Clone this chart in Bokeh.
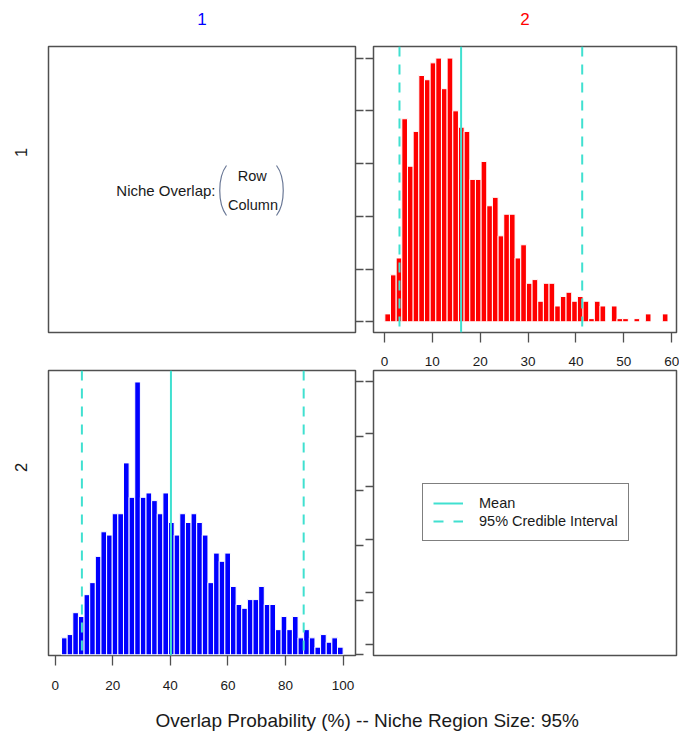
import numpy as np
from bokeh.plotting import figure
from bokeh.models import Range1d, FixedTicker, Span, Label, Legend, LegendItem
from bokeh.layouts import column, row
from bokeh.embed import file_html
from bokeh.resources import INLINE

FONT = "Liberation Sans"
TEAL = "#40E0D0"
FRAME = "#505050"
TXT = "#1a1a1a"

# ---------------- data ----------------
species = ["1", "2"]
species_colors = ["#0000FF", "#FF0000"]

# top-right panel: overlap of species 2 (red), 50 bins over [min, max]
red_range = [0.07, 59.22]
red_density = [0.0015, 0.0089, 0.0121, 0.0385, 0.0295, 0.0361, 0.0467, 0.0459, 0.0491, 0.0500,
               0.0442, 0.0500, 0.0400, 0.0369, 0.0361, 0.0270, 0.0270, 0.0304, 0.0220, 0.0236,
               0.0163, 0.0204, 0.0204, 0.0121, 0.0146, 0.0073, 0.0080, 0.0039, 0.0073, 0.0073,
               0.0030, 0.0048, 0.0056, 0.0039, 0.0048, 0.0039, 0.0006, 0.0039, 0.0030, 0.0000,
               0.0030, 0.0006, 0.0006, 0.0000, 0.0006, 0.0000, 0.0015, 0.0000, 0.0000, 0.0015]
red_stats = [3.13, 16.0, 41.3]      # lower 95% CI, mean, upper 95% CI

# bottom-left panel: overlap of species 1 (blue)
blue_range = [2.2, 100.0]
blue_density = [0.0031, 0.0037, 0.0077, 0.0070, 0.0110, 0.0132, 0.0180, 0.0225, 0.0219, 0.0258,
                0.0258, 0.0351, 0.0288, 0.0499, 0.0288, 0.0296, 0.0282, 0.0258, 0.0296, 0.0242,
                0.0219, 0.0258, 0.0242, 0.0258, 0.0242, 0.0219, 0.0132, 0.0186, 0.0171, 0.0186,
                0.0125, 0.0092, 0.0085, 0.0101, 0.0101, 0.0125, 0.0092, 0.0092, 0.0046, 0.0070,
                0.0046, 0.0070, 0.0031, 0.0046, 0.0031, 0.0014, 0.0037, 0.0023, 0.0031, 0.0014]
blue_stats = [9.27, 40.2, 86.3]

tr_xticks = [0, 10, 20, 30, 40, 50, 60]
bl_xticks = [0, 20, 40, 60, 80, 100]
dens_ticks = [0.0, 0.01, 0.02, 0.03, 0.04, 0.05]
br_ticks = [0.0, 0.2, 0.4, 0.6, 0.8, 1.0]
legend_labels = ["Mean", "95% Credible Interval"]
overlap_text = ["Niche Overlap:", "Row", "Column"]
xlabel = "Overlap Probability (%) -- Niche Region Size: 95%"


# ---------------- helpers ----------------
def make_fig(width, height, xr, yr, mb, x_loc, y_loc):
    p = figure(width=width, height=height, x_range=xr, y_range=yr,
               toolbar_location=None, tools="", output_backend="svg",
               x_axis_location=x_loc, y_axis_location=y_loc,
               min_border_left=mb[0], min_border_right=mb[1],
               min_border_top=mb[2], min_border_bottom=mb[3])
    p.xgrid.visible = False
    p.ygrid.visible = False
    p.outline_line_color = FRAME
    p.outline_line_width = 1.5
    p.background_fill_color = "white"
    p.border_fill_color = "white"
    return p


def blank_fig(width, height):
    p = figure(width=width, height=height, x_range=Range1d(0, width),
               y_range=Range1d(0, height), toolbar_location=None, tools="",
               output_backend="svg", x_axis_location=None, y_axis_location=None,
               min_border=0)
    p.outline_line_color = None
    p.xgrid.visible = False
    p.ygrid.visible = False
    p.background_fill_color = "white"
    p.border_fill_color = "white"
    return p


def style_axis(ax, ticks, tick_out, labels, standoff=0):
    ax.ticker = FixedTicker(ticks=ticks)
    ax.minor_tick_line_color = None
    ax.major_tick_in = 0
    ax.major_tick_out = tick_out
    ax.major_tick_line_color = FRAME
    ax.major_tick_line_width = 1.3
    ax.axis_line_color = None
    ax.axis_label = None
    if labels:
        ax.major_label_text_font = FONT
        ax.major_label_text_font_size = "13.5px"
        ax.major_label_text_color = TXT
        ax.major_label_standoff = standoff
    else:
        ax.major_label_text_font_size = "1px"
        ax.major_label_text_color = None
        ax.major_label_standoff = 0


def hist(p, rng, dens, color):
    edges = np.linspace(rng[0], rng[1], len(dens) + 1)
    centers = (edges[:-1] + edges[1:]) / 2
    w = edges[1] - edges[0]
    p.vbar(x=centers, width=w, top=dens, bottom=0, fill_color=color,
           line_color="white", line_width=1)


def stat_lines(p, stats):
    for i, v in enumerate(stats):
        dash = "solid" if i == 1 else "10 8"
        p.add_layout(Span(location=v, dimension="height", line_color=TEAL,
                          line_width=2, line_dash=dash))


def add_label(p, x, y, text, size, color=TXT, angle=0.0, align="center"):
    p.add_layout(Label(x=x, y=y, x_units="screen", y_units="screen", text=text,
                       text_font=FONT, text_font_size=size, text_color=color,
                       text_align=align, text_baseline="middle", angle=angle))


# ---------------- column headers ----------------
hdr = blank_fig(679, 40)
add_label(hdr, 201.6, 22, species[0], "17px", color=species_colors[0])
add_label(hdr, 524.4, 22, species[1], "17px", color=species_colors[1])

# ---------------- row labels ----------------
rl1 = blank_fig(40, 328)
add_label(rl1, 20, 180, species[0], "16.5px", angle=np.pi / 2)
rl2 = blank_fig(40, 332)
add_label(rl2, 20, 188, species[1], "16.5px", angle=np.pi / 2)

# ---------------- top-left: description ----------------
top_yr = Range1d(-0.00203, 0.0522)
tl = make_fig(324, 328, Range1d(0, 307), top_yr, (8, 9, 6, 36), None, "right")
style_axis(tl.yaxis[0], dens_ticks, 8, False)
tl.extra_y_ranges = {"px": Range1d(0, 286)}
add_label(tl, 167, 142, overlap_text[0], "15px", align="right")
add_label(tl, 203.7, 157, overlap_text[1], "14.5px")
add_label(tl, 204.5, 128, overlap_text[2], "14.5px")
tl.bezier(x0=[178, 228], y0=[167, 167], x1=[178, 228], y1=[117, 117],
          cx0=[169, 237], cy0=[155, 155], cx1=[169, 237], cy1=[129, 129],
          y_range_name="px", line_color="#6a7896", line_width=1.2)

# ---------------- top-right: red histogram ----------------
tr = make_fig(315, 328, Range1d(-2.3, 61.0), Range1d(-0.00203, 0.0522),
              (9, 3, 6, 36), "below", "left")
style_axis(tr.xaxis[0], tr_xticks, 10, True, 14)
style_axis(tr.yaxis[0], dens_ticks, 8, False)
hist(tr, red_range, red_density, species_colors[1])
stat_lines(tr, red_stats)

# ---------------- bottom-left: blue histogram ----------------
bl = make_fig(324, 332, Range1d(-2.33, 104.3), Range1d(-0.000128, 0.052),
              (8, 9, 2, 45), "below", "right")
style_axis(bl.xaxis[0], bl_xticks, 10, True, 15)
style_axis(bl.yaxis[0], dens_ticks, 8, False)
hist(bl, blue_range, blue_density, species_colors[0])
stat_lines(bl, blue_stats)

# ---------------- bottom-right: legend ----------------
br = make_fig(315, 332, Range1d(0, 1), Range1d(-0.04, 1.04),
              (9, 3, 2, 45), None, "left")
style_axis(br.yaxis[0], br_ticks, 8, False)
r_mean = br.line(x=[np.nan], y=[np.nan], line_color=TEAL, line_width=2)
r_ci = br.line(x=[np.nan], y=[np.nan], line_color=TEAL, line_width=2, line_dash="10 10")
legend = Legend(items=[LegendItem(label=legend_labels[0], renderers=[r_mean]),
                       LegendItem(label=legend_labels[1], renderers=[r_ci])],
                location=(49, 114), orientation="vertical",
                border_line_color="black", border_line_width=1,
                background_fill_color="white", background_fill_alpha=1.0,
                label_text_font=FONT, label_text_font_size="14.5px",
                label_text_color=TXT, glyph_width=30, glyph_height=18,
                label_height=18, label_standoff=16, padding=10, spacing=0,
                margin=0)
br.add_layout(legend)

# ---------------- bottom label ----------------
xl = blank_fig(679, 33)
add_label(xl, 366.7, 13, xlabel, "19px")

layout = column(hdr, row(rl1, tl, tr), row(rl2, bl, br), xl)

open("out.html", "w").write(file_html(layout, INLINE))
